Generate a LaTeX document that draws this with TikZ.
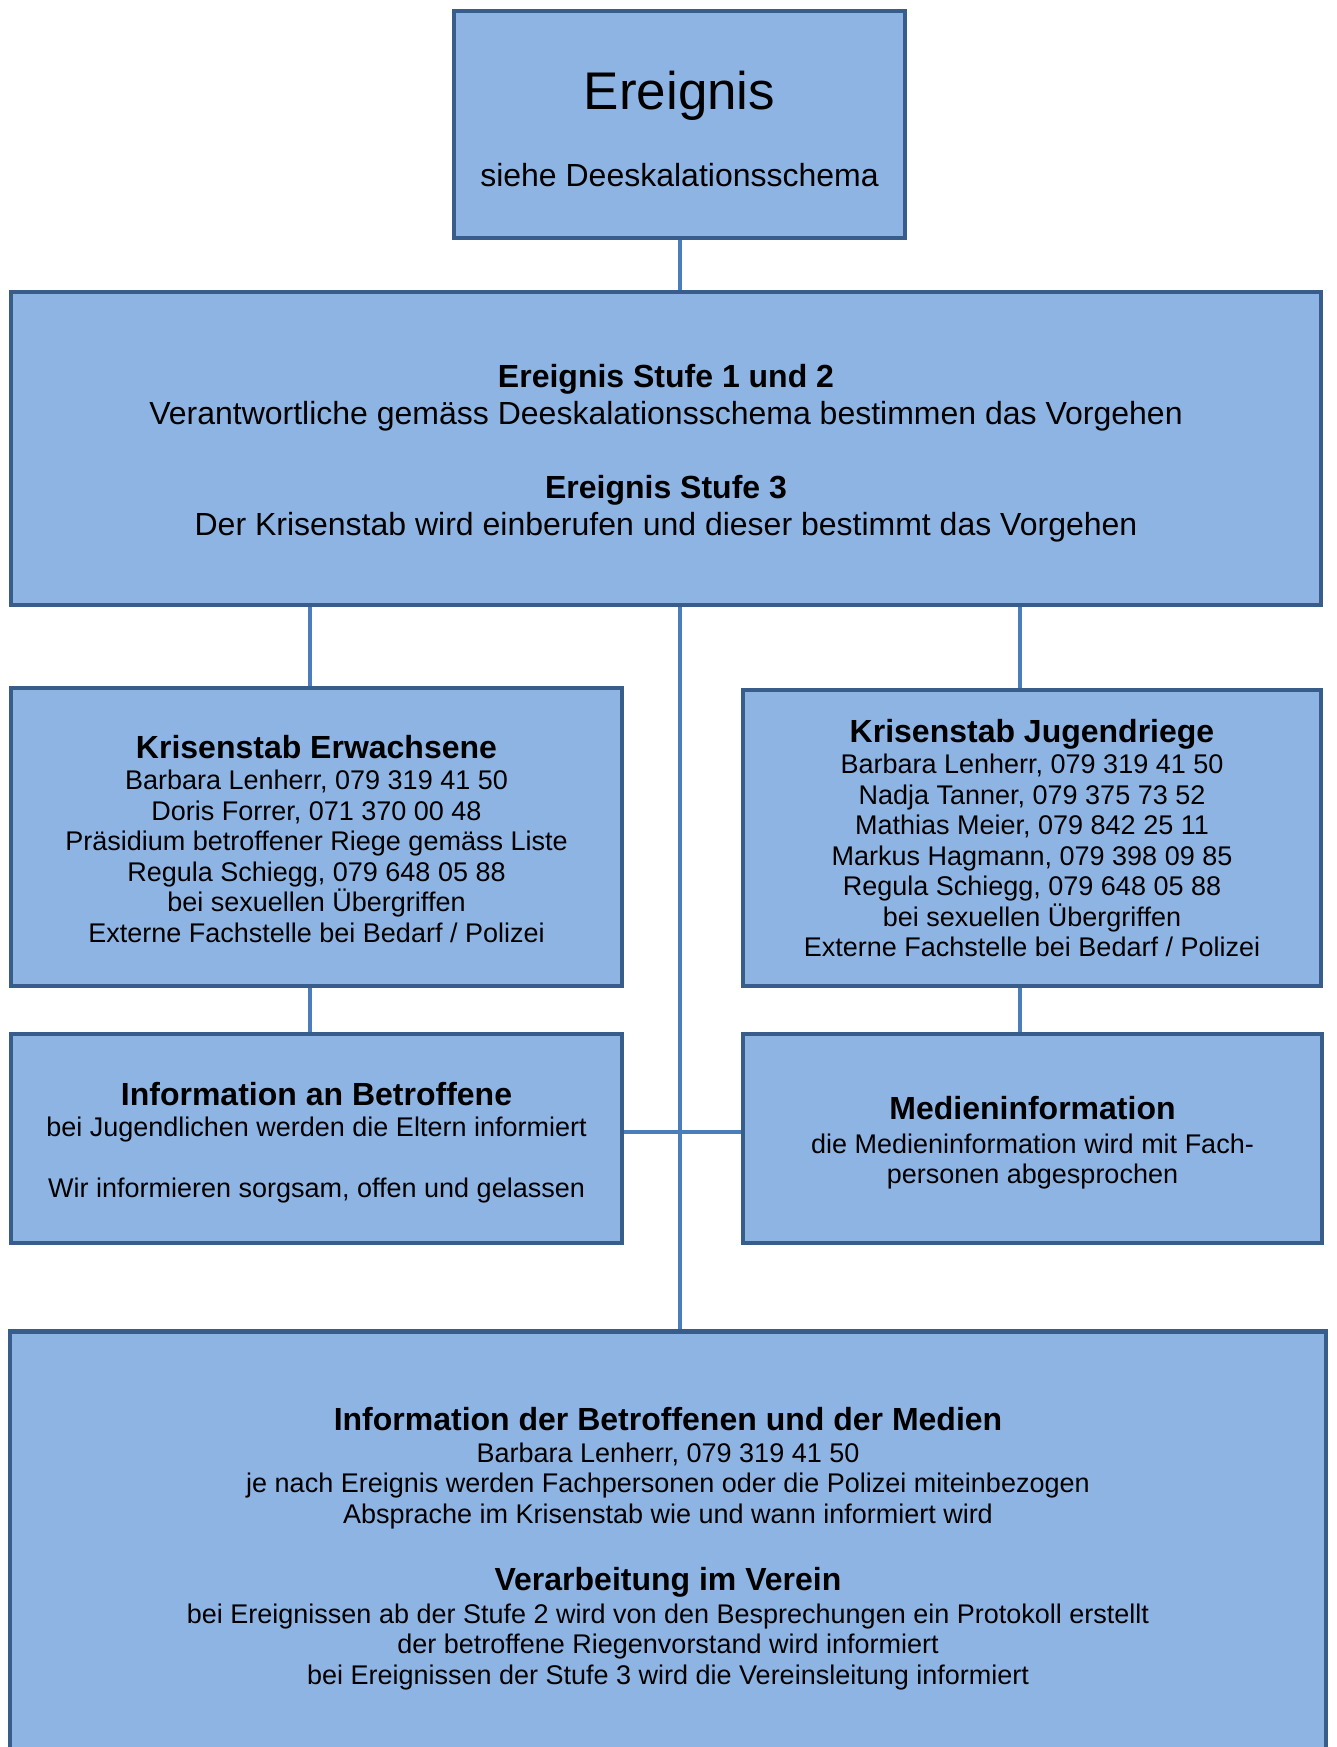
\documentclass[tikz,border=0pt]{standalone}
\usepackage{fontspec}
\setmainfont{Liberation Sans}
\usetikzlibrary{backgrounds}
\definecolor{boxfill}{HTML}{8EB4E3}
\definecolor{boxline}{HTML}{385D8A}
\definecolor{connline}{HTML}{4A7EBB}
\newcommand\boxtitle[1]{{\bfseries\fontsize{32}{37}\selectfont #1\par}}
\newcommand\boxtext[1]{{\fontsize{27}{30.5}\selectfont #1\par}}
\newcommand\boxbig[1]{{\fontsize{32}{37}\selectfont #1\par}}
\newcommand\firststrut[1][32pt]{\rule{0pt}{#1}}
\begin{document}
\begin{tikzpicture}[x=1pt,y=-1pt,
  panel/.style={draw=boxline, fill=boxfill, line width=4.5pt, inner sep=0pt, align=flush center, text=black},
  conn/.style={draw=connline, line width=3.5pt}]
\useasboundingbox (0,0) rectangle (1336,1747);

\node[panel, minimum width=451pt, minimum height=227pt, text width=430pt] (top) at (679.5,124.5)
  {{\fontsize{53}{61}\selectfont\rule{0pt}{47pt}Ereignis\par}\vspace{39.5pt}\boxbig{siehe Deeskalationsschema}};

\node[panel, minimum width=1310pt, minimum height=313pt, text width=1280pt] (stufe) at (666,448.5)
  {\boxtitle{\firststrut Ereignis Stufe 1 und 2}\boxbig{Verantwortliche gemäss Deeskalationsschema bestimmen das Vorgehen}\vspace{37pt}\boxtitle{Ereignis Stufe 3}\boxbig{Der Krisenstab wird einberufen und dieser bestimmt das Vorgehen}};

\node[panel, minimum width=611pt, minimum height=298pt, text width=590pt] (ke) at (316.5,837)
  {\boxtitle{\firststrut[27.6pt]Krisenstab Erwachsene}\vspace{0.5pt}\boxtext{Barbara Lenherr, 079 319 41 50\\Doris Forrer, 071 370 00 48\\Präsidium betroffener Riege gemäss Liste\\Regula Schiegg, 079 648 05 88\\bei sexuellen Übergriffen\\Externe Fachstelle bei Bedarf / Polizei}};

\node[panel, minimum width=578pt, minimum height=296pt, text width=560pt] (kj) at (1032,838)
  {\boxtitle{\firststrut[24pt]Krisenstab Jugendriege}\vspace{0.5pt}\boxtext{Barbara Lenherr, 079 319 41 50\\Nadja Tanner, 079 375 73 52\\Mathias Meier, 079 842 25 11\\Markus Hagmann, 079 398 09 85\\Regula Schiegg, 079 648 05 88\\bei sexuellen Übergriffen\\Externe Fachstelle bei Bedarf / Polizei}};

\node[panel, minimum width=611pt, minimum height=209pt, text width=590pt] (ib) at (316.5,1138.5)
  {\boxtitle{\firststrut Information an Betroffene}\vspace{1pt}\boxtext{bei Jugendlichen werden die Eltern informiert}\vspace{30.5pt}\boxtext{Wir informieren sorgsam, offen und gelassen}};

\node[panel, minimum width=579pt, minimum height=209pt, text width=560pt] (mi) at (1032.5,1138.5)
  {\boxtitle{\firststrut Medieninformation}\vspace{3pt}\boxtext{die Medieninformation wird mit Fach-\\personen abgesprochen}};

\node[panel, minimum width=1316pt, minimum height=425.5pt, text width=1290pt] (bot) at (668,1544)
  {\boxtitle{\firststrut Information der Betroffenen und der Medien}\vspace{1.5pt}\boxtext{Barbara Lenherr, 079 319 41 50\\je nach Ereignis werden Fachpersonen oder die Polizei miteinbezogen\\Absprache im Krisenstab wie und wann informiert wird}\vspace{30pt}\boxtitle{Verarbeitung im Verein}\vspace{2.5pt}\boxtext{bei Ereignissen ab der Stufe 2 wird von den Besprechungen ein Protokoll erstellt\\der betroffene Riegenvorstand wird informiert\\bei Ereignissen der Stufe 3 wird die Vereinsleitung informiert}};

\coordinate (cL) at (310,0);
\coordinate (cM) at (680,0);
\coordinate (cR) at (1020,0);
\coordinate (cH) at (0,1132);

\begin{pgfonlayer}{background}
\draw[conn] (top.south -| cM) -- (stufe.north -| cM);
\draw[conn] (stufe.south -| cL) -- (ke.north -| cL);
\draw[conn] (stufe.south -| cR) -- (kj.north -| cR);
\draw[conn] (stufe.south -| cM) -- (bot.north -| cM);
\draw[conn] (ke.south -| cL) -- (ib.north -| cL);
\draw[conn] (kj.south -| cR) -- (mi.north -| cR);
\draw[conn] (ib.east |- cH) -- (mi.west |- cH);
\end{pgfonlayer}
\end{tikzpicture}
\end{document}
